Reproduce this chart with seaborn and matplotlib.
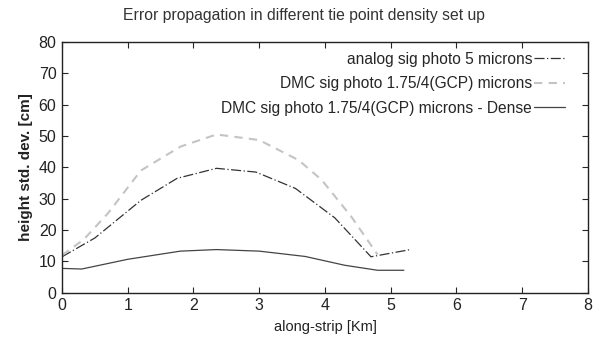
import matplotlib
matplotlib.use("Agg")
import matplotlib.pyplot as plt
import seaborn as sns
import pandas as pd

sns.set_style("ticks")
plt.rcParams['font.family'] = ['Liberation Sans', 'DejaVu Sans']

title = "Error propagation in different tie point density set up"
xlabel = "along-strip [Km]"
ylabel = "height std. dev. [cm]"

analog_label = "analog sig photo 5 microns"
analog_x = [0.0, 0.5, 1.2, 1.75, 2.35, 2.95, 3.55, 4.15, 4.7, 5.3]
analog_y = [11.5, 17.5, 29.5, 36.5, 39.7, 38.5, 33.3, 23.9, 11.5, 13.8]

dmc_label = "DMC sig photo 1.75/4(GCP) microns"
dmc_x = [0.0, 0.33, 0.7, 1.2, 1.8, 2.35, 3.0, 3.6, 3.95, 4.4, 4.8]
dmc_y = [12.0, 17.0, 25.4, 39.0, 46.6, 50.5, 48.7, 42.3, 36.0, 24.3, 12.2]

dense_label = "DMC sig photo 1.75/4(GCP) microns - Dense"
dense_x = [0.0, 0.3, 1.0, 1.8, 2.35, 3.0, 3.7, 4.3, 4.8, 5.2]
dense_y = [7.8, 7.6, 10.7, 13.3, 13.8, 13.3, 11.6, 8.8, 7.2, 7.2]

fig = plt.figure(figsize=(6.08, 3.52), dpi=100)
ax = fig.add_axes([0.102, 0.168, 0.865, 0.713])

sns.lineplot(x=analog_x, y=analog_y, ax=ax, color="#333333", lw=0.9,
             linestyle=(0, (8, 2, 1, 2)), label=analog_label, sort=False)
sns.lineplot(x=dmc_x, y=dmc_y, ax=ax, color="#c4c4c4", lw=1.5,
             linestyle=(0, (4, 3)), label=dmc_label, sort=False)
sns.lineplot(x=dense_x, y=dense_y, ax=ax, color="#444444", lw=0.9,
             linestyle="-", label=dense_label, sort=False)

ax.set_xlim(0, 8)
ax.set_ylim(0, 80)
ax.set_xticks(range(0, 9))
ax.set_yticks(range(0, 81, 10))
ax.tick_params(direction="in", top=True, right=True, labelsize=11.5, length=4,
               width=0.8, labelcolor="#222222", pad=4)
for s in ax.spines.values():
    s.set_visible(True)
    s.set_linewidth(1.0)
    s.set_color("#222222")

fig.text(0.5, 0.955, title, fontsize=11.3, color="#333333", ha="center", va="center")
ax.set_xlabel(xlabel, fontsize=10.5, color="#222222", labelpad=5)
ax.set_ylabel(ylabel, fontsize=11, color="#222222", fontweight="bold", labelpad=4)

leg = ax.legend(loc="upper right", bbox_to_anchor=(0.968, 0.985), frameon=False,
                markerfirst=False, fontsize=11.2, handlelength=2.0, borderaxespad=0,
                labelspacing=0.6, handletextpad=0.1)

fig.savefig("out.png", dpi=100, facecolor="white")
